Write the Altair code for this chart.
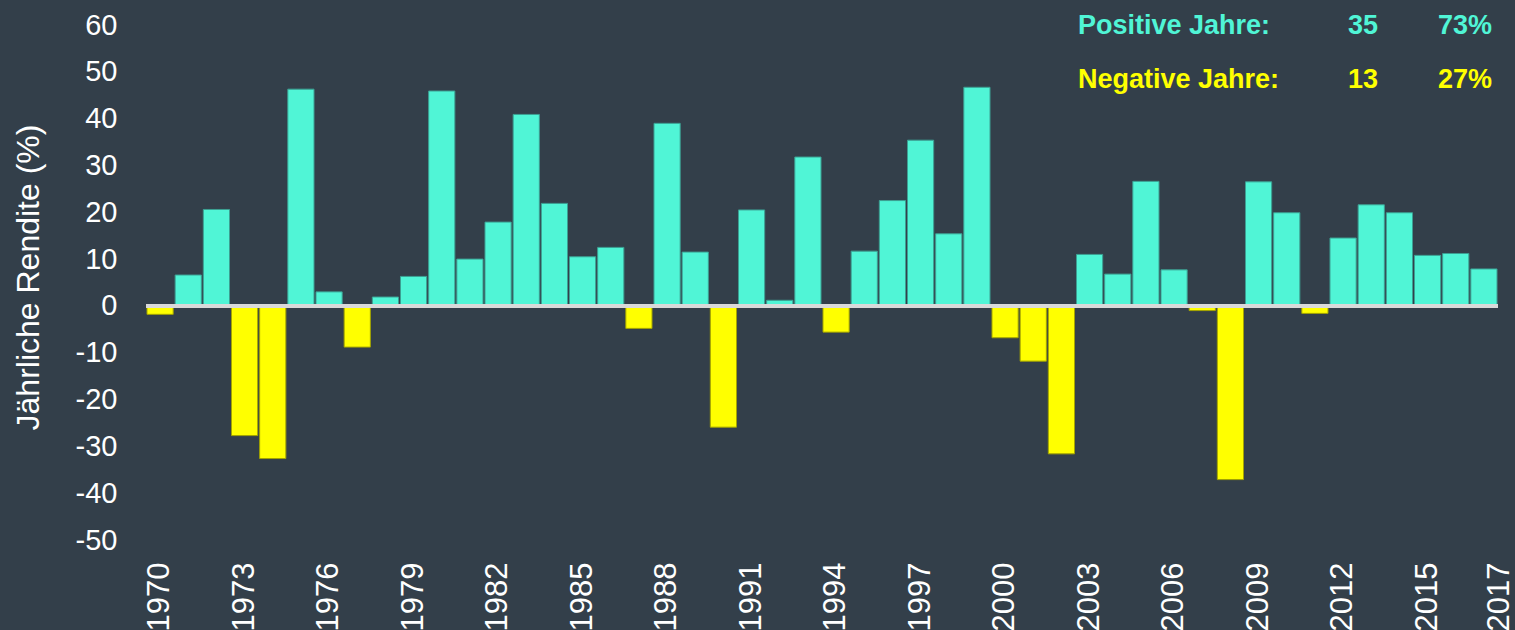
import altair as alt
import pandas as pd

years = list(range(1970, 2018))
returns = [-1.8, 6.6, 20.6, -27.7, -32.6, 46.3, 3.0, -8.8, 1.9, 6.3,
           45.9, 10.0, 17.9, 40.9, 21.9, 10.5, 12.5, -4.8, 39.0, 11.5,
           -25.9, 20.5, 1.2, 31.8, -5.6, 11.7, 22.5, 35.4, 15.4, 46.7,
           -6.8, -11.8, -31.6, 11.0, 6.8, 26.6, 7.7, -1.0, -37.1, 26.5,
           19.9, -1.6, 14.5, 21.6, 19.9, 10.8, 11.2, 7.9]
tick_years = [1970, 1973, 1976, 1979, 1982, 1985, 1988, 1991, 1994, 1997,
              2000, 2003, 2006, 2009, 2012, 2015, 2017]
y_ticks = [-50, -40, -30, -20, -10, 0, 10, 20, 30, 40, 50, 60]

TEAL = "#50F5D6"
YELLOW = "#FFFF00"
BG = "#333F4A"

df = pd.DataFrame({"Jahr": years, "Rendite": returns})
df["Vorzeichen"] = ["pos" if v > 0 else "neg" for v in returns]

n_pos = int((df["Rendite"] > 0).sum())
n_neg = int((df["Rendite"] < 0).sum())
n_all = len(df)

W, H = 1352, 515

bars = alt.Chart(df).mark_bar(strokeWidth=1).encode(
    x=alt.X("Jahr:O",
            scale=alt.Scale(paddingInner=0.07, paddingOuter=0.035),
            axis=alt.Axis(values=tick_years, labelAngle=-90, labelFontSize=31,
                          labelFont="Arial", labelColor="#FFFFFF",
                          labelPadding=22, ticks=False, domain=False,
                          title=None, labelBaseline="middle", labelAlign="right",
                          labelOffset={"condition": {"test": "datum.value == 2017", "value": 16},
                                       "value": 0})),
    y=alt.Y("Rendite:Q",
            scale=alt.Scale(domain=[-50, 60], nice=False),
            axis=alt.Axis(values=y_ticks, grid=False, domain=False, ticks=False,
                          labelFontSize=29, labelFont="Arial", labelColor="#FFFFFF",
                          labelExpr="toString(datum.value)",
                          labelPadding=29, title="Jährliche Rendite (%)",
                          titleFontSize=32, titleFont="Arial", titleFontWeight="normal",
                          titleColor="#FFFFFF", titlePadding=30, titleY=252)),
    fill=alt.Fill("Vorzeichen:N",
                  scale=alt.Scale(domain=["pos", "neg"], range=[TEAL, YELLOW]),
                  legend=None),
    stroke=alt.Stroke("Vorzeichen:N",
                      scale=alt.Scale(domain=["pos", "neg"], range=["#3C9F92", "#A3A300"]),
                      legend=None),
)

zero = alt.Chart(df).mark_rule(color="#D9D9D9", strokeWidth=3).encode(y=alt.datum(0))

legend_rows = [
    ("Positive Jahre:", str(n_pos), f"{round(100 * n_pos / n_all)}%", TEAL, 9),
    ("Negative Jahre:", str(n_neg), f"{round(100 * n_neg / n_all)}%", YELLOW, 63),
]
text_layers = []
for label, cnt, pct, col, ypos in legend_rows:
    tdf = pd.DataFrame({"label": [label], "cnt": [cnt], "pct": [pct]})
    for field, xpos, align in [("label", 932, "left"), ("cnt", 1232, "right"), ("pct", 1346, "right")]:
        text_layers.append(
            alt.Chart(tdf).mark_text(
                font="Liberation Sans Narrow, Arial Narrow, Liberation Sans, Arial, sans-serif",
                fontWeight="bold", fontSize=27, color=col, align=align, baseline="alphabetic"
            ).encode(text=f"{field}:N", x=alt.value(xpos), y=alt.value(ypos))
        )

chart = alt.layer(bars, zero, *text_layers).properties(
    width=W, height=H,
    autosize=alt.AutoSizeParams(type="none"),
    padding={"left": 146, "top": 25, "right": 17, "bottom": 90},
    background=BG,
).configure_view(stroke=None)

chart.save("out.html", embed_options={
    "renderer": "svg", "actions": False,
    "defaultStyle": "html,body{margin:0;padding:0;background:#333F4A;overflow:hidden}"
                    ".vega-embed{display:block;line-height:0}",
})
